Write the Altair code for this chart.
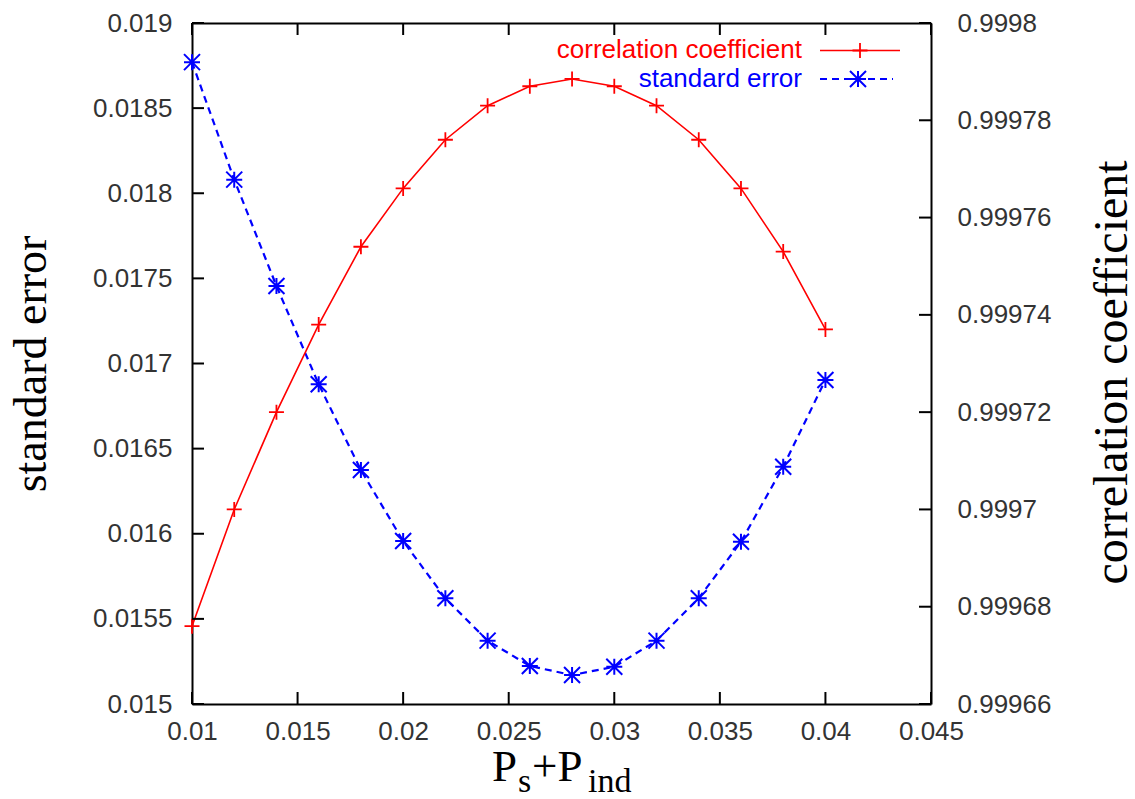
import altair as alt
import pandas as pd

# ---- data ----
p_sum = [0.010, 0.012, 0.014, 0.016, 0.018, 0.020, 0.022, 0.024,
         0.026, 0.028, 0.030, 0.032, 0.034, 0.036, 0.038, 0.040]
std_error = [0.01877, 0.01808, 0.017455, 0.016878, 0.016374, 0.015957, 0.015621, 0.015372,
             0.015223, 0.015170, 0.015219, 0.015372, 0.015621, 0.015953, 0.016394, 0.016903]
corr_coef = [0.999676, 0.999700, 0.999720, 0.999738, 0.999754, 0.999766, 0.999776, 0.999783,
             0.999787, 0.9997885, 0.999787, 0.999783, 0.999776, 0.999766, 0.999753, 0.999737]

x_ticks = [0.01, 0.015, 0.02, 0.025, 0.03, 0.035, 0.04, 0.045]
left_ticks = [0.015, 0.0155, 0.016, 0.0165, 0.017, 0.0175, 0.018, 0.0185, 0.019]
right_ticks = [0.99966, 0.99968, 0.9997, 0.99972, 0.99974, 0.99976, 0.99978, 0.9998]

W, H = 739, 681
PAD_L, PAD_T = 192, 23
TICK = 12

X_DOM = [0.01, 0.045]
SE_DOM = [0.015, 0.019]
CC_DOM = [0.99966, 0.9998]

df = pd.DataFrame({"x": p_sum, "se": std_error, "cc": corr_coef})
one = alt.Data(values=[{}])

sans = "Liberation Sans"
serif = "Liberation Serif"
frame = "black"
tick_color = "black"

x_scale = alt.Scale(domain=X_DOM, nice=False, zero=False)
se_scale = alt.Scale(domain=SE_DOM, nice=False, zero=False)
cc_scale = alt.Scale(domain=CC_DOM, nice=False, zero=False)


# linear maps identical to the scales above (used only for the frame's inward ticks)
def px_x(v):
    return (v - X_DOM[0]) / (X_DOM[1] - X_DOM[0]) * W


def py_se(v):
    return H - (v - SE_DOM[0]) / (SE_DOM[1] - SE_DOM[0]) * H


def py_cc(v):
    return H - (v - CC_DOM[0]) / (CC_DOM[1] - CC_DOM[0]) * H


label_style = dict(labelFont=sans, labelFontSize=26, labelColor="#333", labelFlush=False,
                   ticks=False, grid=False, domain=True, domainColor=frame, domainWidth=2,
                   format="~g")

x_axis = alt.Axis(orient="bottom", values=x_ticks, labelPadding=14, title=None, **label_style)
left_axis = alt.Axis(orient="left", values=left_ticks, labelPadding=20,
                     title="standard error", titleFont=serif, titleFontSize=46,
                     titleFontWeight="normal", titleColor="black", titleAngle=270,
                     titleX=45 - PAD_L, titleY=H / 2, titleAlign="center",
                     titleBaseline="alphabetic", **label_style)
right_axis = alt.Axis(orient="right", values=right_ticks, labelPadding=26,
                      title="correlation coefficient", titleFont=serif, titleFontSize=48,
                      titleFontWeight="normal", titleColor="black", titleAngle=270,
                      titleX=1126 - PAD_L - W, titleY=349, titleAlign="center",
                      titleBaseline="alphabetic", **label_style)
top_frame = alt.Axis(orient="top", labels=False, ticks=False, domain=True,
                     domainColor=frame, domainWidth=2, grid=False, title=None)

plus_path = "M-1,0L1,0M0,-1L0,1"
star_path = "M-1,0L1,0M0,-1L0,1M-1,-1L1,1M-1,1L1,-1"

# ---- standard error group (left axis) ----
se_line = alt.Chart(df).mark_line(color="#0000ff", strokeWidth=2.2, strokeDash=[7, 5]).encode(
    x=alt.X("x:Q", scale=x_scale, axis=x_axis),
    y=alt.Y("se:Q", scale=se_scale, axis=left_axis))
se_pts = alt.Chart(df).mark_point(shape=star_path, filled=False, color="#0000ff",
                                  size=256, strokeWidth=2, opacity=1).encode(
    x=alt.X("x:Q", scale=x_scale, axis=top_frame),
    y=alt.Y("se:Q", scale=se_scale, axis=None))
group_se = alt.layer(se_line, se_pts).resolve_axis(x="independent", y="independent")

# ---- correlation group (right axis) ----
cc_line = alt.Chart(df).mark_line(color="#ff0000", strokeWidth=1.6).encode(
    x=alt.X("x:Q", scale=x_scale, axis=None),
    y=alt.Y("cc:Q", scale=cc_scale, axis=right_axis))
cc_pts = alt.Chart(df).mark_point(shape=plus_path, filled=False, color="#ff0000",
                                  size=225, strokeWidth=1.8, opacity=1).encode(
    x=alt.X("x:Q", scale=x_scale, axis=None),
    y=alt.Y("cc:Q", scale=cc_scale, axis=None))
group_cc = alt.layer(cc_line, cc_pts).resolve_axis(x="independent", y="independent")


# ---- inward frame ticks (gnuplot style) ----
def seg(x1, x2, y1, y2):
    return alt.Chart(one).mark_rule(color=tick_color, strokeWidth=2, opacity=1).encode(
        x=alt.value(x1), x2=alt.value(x2), y=alt.value(y1), y2=alt.value(y2))


tick_layers = []
for v in x_ticks:
    tick_layers.append(seg(px_x(v), px_x(v), H, H - TICK))
    tick_layers.append(seg(px_x(v), px_x(v), 0, TICK))
for v in left_ticks:
    tick_layers.append(seg(0, TICK, py_se(v), py_se(v)))
for v in right_ticks:
    tick_layers.append(seg(W - TICK, W, py_cc(v), py_cc(v)))

# ---- legend ----
leg_cc_text = alt.Chart(one).mark_text(text="correlation coefficient", font=sans, fontSize=26,
                                       color="#ff0000", align="right", baseline="middle").encode(
    x=alt.value(610), y=alt.value(27))
leg_se_text = alt.Chart(one).mark_text(text="standard error", font=sans, fontSize=26,
                                       color="#0000ff", align="right", baseline="middle").encode(
    x=alt.value(610), y=alt.value(56))
leg_cc_line = alt.Chart(one).mark_rule(color="#ff0000", strokeWidth=1.6).encode(
    x=alt.value(628), x2=alt.value(708), y=alt.value(27.5))
leg_cc_pt = alt.Chart(one).mark_point(shape=plus_path, filled=False, color="#ff0000",
                                      size=225, strokeWidth=1.8, opacity=1).encode(
    x=alt.value(668), y=alt.value(27.5))
leg_se_line = alt.Chart(one).mark_rule(color="#0000ff", strokeWidth=2.2, strokeDash=[7, 5]).encode(
    x=alt.value(628), x2=alt.value(701), y=alt.value(56))
leg_se_pt = alt.Chart(one).mark_point(shape=star_path, filled=False, color="#0000ff",
                                      size=256, strokeWidth=2, opacity=1).encode(
    x=alt.value(666), y=alt.value(56))

# ---- x-axis title with subscripts: P_s + P_ind ----
title_parts = [
    ("P", 492, 781, 45),
    ("s", 518, 792, 34),
    ("+P", 532, 781, 45),
    ("ind", 588, 792, 34),
]
title_layers = [
    alt.Chart(one).mark_text(text=t, font=serif, fontSize=fs, color="black",
                             align="left", baseline="alphabetic").encode(
        x=alt.value(xx - PAD_L), y=alt.value(yy - PAD_T))
    for (t, xx, yy, fs) in title_parts
]

annotations = alt.layer(*tick_layers, leg_cc_text, leg_se_text, leg_cc_line, leg_cc_pt,
                        leg_se_line, leg_se_pt, *title_layers)

chart = alt.layer(group_se, group_cc, annotations).resolve_scale(
    y="independent").resolve_axis(x="independent", y="independent").properties(
    width=W, height=H,
    background="white",
    padding={"left": PAD_L, "top": PAD_T, "right": 1135 - PAD_L - W, "bottom": 799 - PAD_T - H},
    autosize=alt.AutoSizeParams(type="none"),
).configure_view(stroke="transparent").configure_axis(grid=False)

chart.save("out.html", embed_options={"renderer": "svg", "actions": False})
